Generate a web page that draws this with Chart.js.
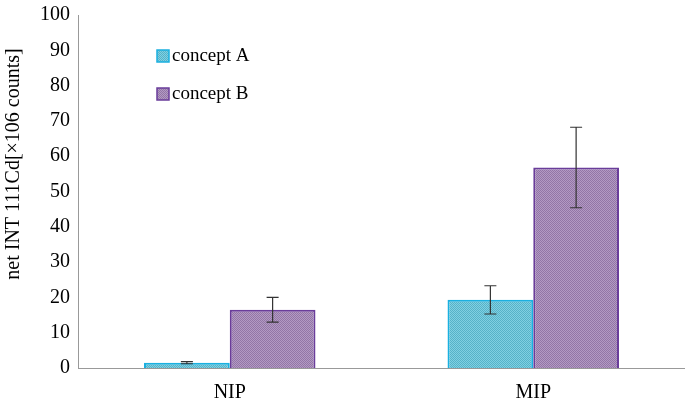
<!DOCTYPE html>
<html>
<head>
<meta charset="utf-8">
<script src="https://cdn.jsdelivr.net/npm/chart.js@4.4.1/dist/chart.umd.min.js"></script>
<style>
  html, body { margin: 0; padding: 0; background: #fff; }
  #wrap { width: 685px; height: 401px; }
</style>
</head>
<body>
<div id="wrap"><canvas id="c"></canvas></div>
<script>
const categories = ['NIP', 'MIP'];
const conceptA = [1.5, 19.3];
const conceptB = [16.5, 56.8];
const errA = [0.3, 4.0];
const errB = [3.5, 11.4];
const yTicks = [0, 10, 20, 30, 40, 50, 60, 70, 80, 90, 100];
const yTitle = 'net INT 111Cd[×106 counts]';

// fine dotted texture like the original print
function makePattern(base, dot) {
  const p = document.createElement('canvas');
  p.width = 2; p.height = 2;
  const g = p.getContext('2d');
  g.fillStyle = base; g.fillRect(0, 0, 2, 2);
  g.fillStyle = dot; g.fillRect(0, 0, 1, 1); g.fillRect(1, 1, 1, 1);
  return g.createPattern(p, 'repeat');
}

const fillA = makePattern('#80d0e2', '#56b2c8');
const fillB = makePattern('#b39ac3', '#9276a6');

const errorBars = {
  id: 'errorBars',
  afterDatasetsDraw(chart) {
    const ctx = chart.ctx;
    const y = chart.scales.y;
    const errs = [errA, errB];
    ctx.save();
    ctx.strokeStyle = '#333';
    ctx.lineWidth = 1.2;
    chart.data.datasets.forEach((ds, i) => {
      chart.getDatasetMeta(i).data.forEach((bar, j) => {
        const v = ds.data[j], e = errs[i][j];
        const x = bar.x;
        const top = y.getPixelForValue(v + e);
        const bot = y.getPixelForValue(v - e);
        ctx.beginPath();
        ctx.moveTo(x, top); ctx.lineTo(x, bot);
        ctx.moveTo(x - 6, top); ctx.lineTo(x + 6, top);
        ctx.moveTo(x - 6, bot); ctx.lineTo(x + 6, bot);
        ctx.stroke();
      });
    });
    ctx.restore();
  }
};

// legend inside the plot + y title sitting a bit above centre, as in the original
const extras = {
  id: 'extras',
  afterDraw(chart) {
    const ctx = chart.ctx;
    const items = [
      { label: 'concept A', fill: fillA, border: '#1ab0e0' },
      { label: 'concept B', fill: fillB, border: '#6a3d9a' }
    ];
    ctx.save();
    ctx.font = '19px "Liberation Serif"';
    ctx.textBaseline = 'middle';
    items.forEach((it, i) => {
      const x = 157, yy = 56 + i * 38;
      ctx.fillStyle = it.fill;
      ctx.fillRect(x, yy - 6, 12, 12);
      ctx.strokeStyle = it.border;
      ctx.lineWidth = 1.5;
      ctx.strokeRect(x, yy - 6, 12, 12);
      ctx.fillStyle = '#000';
      ctx.fillText(it.label, x + 15, yy);
    });

    ctx.translate(14, 164);
    ctx.rotate(-Math.PI / 2);
    ctx.textAlign = 'center';
    ctx.font = '20px "Liberation Serif"';
    ctx.fillText(yTitle, 0, 0);
    ctx.restore();
  }
};

new Chart(document.getElementById('c'), {
  type: 'bar',
  data: {
    labels: categories,
    datasets: [
      { label: 'concept A', data: conceptA, backgroundColor: fillA, borderColor: '#1ab0e0', borderWidth: 2 },
      { label: 'concept B', data: conceptB, backgroundColor: fillB, borderColor: '#6a3d9a', borderWidth: 2 }
    ]
  },
  options: {
    responsive: true,
    maintainAspectRatio: false,
    animation: false,
    layout: { padding: { top: 0, right: 0, left: 37, bottom: -17 } },
    datasets: { bar: { categoryPercentage: 0.565, barPercentage: 1.0 } },
    plugins: {
      legend: { display: false },
      tooltip: { enabled: false }
    },
    scales: {
      x: {
        grid: { display: false, drawTicks: false },
        border: { color: '#999', width: 1 },
        ticks: { color: '#000', font: { family: 'Liberation Serif', size: 20 }, padding: 13 }
      },
      y: {
        min: 0, max: 100,
        afterBuildTicks(axis) { axis.ticks = yTicks.map(v => ({ value: v })); },
        grid: { display: false, drawOnChartArea: false, drawTicks: true, tickLength: 5, color: '#999' },
        border: { color: '#999', width: 1 },
        ticks: { color: '#000', font: { family: 'Liberation Serif', size: 20 }, padding: 3 }
      }
    }
  },
  plugins: [errorBars, extras]
});
</script>
</body>
</html>
